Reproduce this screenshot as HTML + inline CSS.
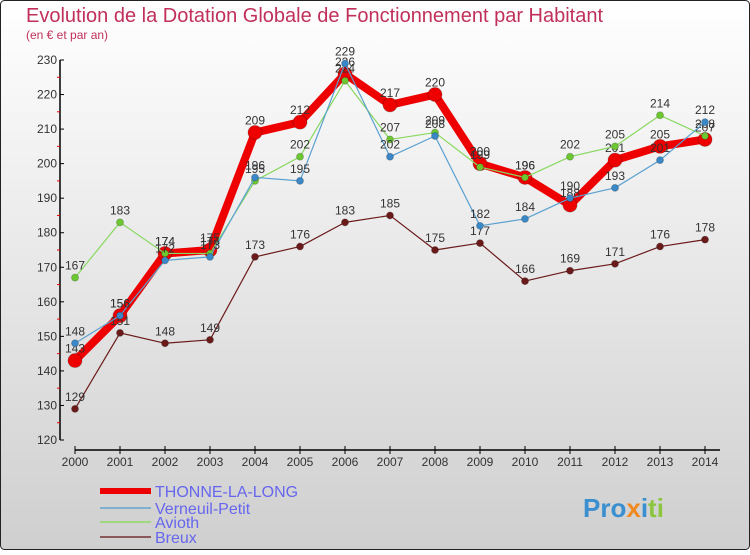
<!DOCTYPE html>
<html><head><meta charset="utf-8"><style>
body{margin:0;width:750px;height:550px;overflow:hidden;font-family:"Liberation Sans",sans-serif}
</style></head><body>
<svg id="c" width="750" height="550" xmlns="http://www.w3.org/2000/svg">
<defs><linearGradient id="bg" x1="0" y1="0" x2="0" y2="1"><stop offset="0" stop-color="#ffffff"/><stop offset="1" stop-color="#cfcfcf"/></linearGradient></defs>
<rect x="0.5" y="0.5" width="749" height="549" rx="4" fill="url(#bg)" stroke="#222"/>
<text x="26" y="22" font-size="20" fill="#c0305a">Evolution de la Dotation Globale de Fonctionnement par Habitant</text>
<text x="26" y="39" font-size="12" fill="#c0305a">(en € et par an)</text>
<g id="axes"></g><g id="series"></g><g id="legend"></g>
<text x="583" y="517" font-size="26" font-weight="bold" fill="#3a8fd0">Pro<tspan fill="#f08a20">x</tspan><tspan fill="#3a8fd0">i</tspan><tspan fill="#8cc63f">ti</tspan></text>
</svg>
<script>
const years=[2000,2001,2002,2003,2004,2005,2006,2007,2008,2009,2010,2011,2012,2013,2014];
const thonne=[143,156,174,175,209,212,226,217,220,200,196,188,201,205,207];
const verneuil=[148,156,172,173,196,195,229,202,208,182,184,190,193,201,212];
const avioth=[167,183,174,174,195,202,224,207,209,199,196,202,205,214,208];
const breux=[129,151,148,149,173,176,183,185,175,177,166,169,171,176,178];
const yTicks=[120,130,140,150,160,170,180,190,200,210,220,230];
const NS="http://www.w3.org/2000/svg";
const X=i=>75+i*45, Y=v=>440-(v-120)*(380/110);
function mk(t,a,p){const e=document.createElementNS(NS,t);for(const k in a)e.setAttribute(k,a[k]);p.appendChild(e);return e;}
const ax=document.getElementById('axes');
let l=mk('line',{x1:60,y1:60,x2:60,y2:440,stroke:'#000','stroke-width':1.5},ax);


l=mk('line',{x1:75,y1:450,x2:720,y2:450,stroke:'#000','stroke-width':1.5},ax);


yTicks.forEach((v,i)=>{
  mk('line',{x1:60,y1:Y(v),x2:64,y2:Y(v),stroke:'#000'},ax);
  if(i<yTicks.length-1)mk('line',{x1:57,y1:Y(v+5),x2:60,y2:Y(v+5),stroke:'#e00'},ax);
  const t=mk('text',{x:57,y:Y(v)+4,'font-size':12,'text-anchor':'end',fill:'#333'},ax);t.textContent=v;
  
  
});
years.forEach((yr,i)=>{
  mk('line',{x1:X(i),y1:446,x2:X(i),y2:454,stroke:'#000'},ax);
  const t=mk('text',{x:X(i),y:466,'font-size':12,'text-anchor':'middle',fill:'#333'},ax);t.textContent=yr;
  
  
});
const sg=document.getElementById('series');
const defs=[
 {d:breux,c:'#6b1a1a',w:1.2,r:3.5,n:'breux'},
 {d:avioth,c:'#88d860',w:1.2,r:3.5,n:'avioth',fc:'#6cc830'},
 {d:verneuil,c:'#5aa0d0',w:1.2,r:3.5,n:'verneuil-petit',fc:'#3a88c8'},
 {d:thonne,c:'#ee0000',w:8,r:7,n:'thonne-la-long'}];
const order=[3,0,1,2];
order.forEach(k=>{const s=defs[k];
  const g=mk('g',{},sg);
  
  
  mk('polyline',{points:s.d.map((v,i)=>X(i)+','+Y(v)).join(' '),fill:'none',stroke:s.c,'stroke-width':s.w,'stroke-linejoin':'round'},g);
  s.d.forEach((v,i)=>{
    const p=mk('circle',{cx:X(i),cy:Y(v),r:s.r,fill:s.fc||s.c,stroke:'rgba(0,0,0,0.2)'},g);
    
    
    const t=mk('text',{x:X(i),y:Y(v)-8,'font-size':12,'text-anchor':'middle',fill:'#333'},g);t.textContent=v;
    
    
  });
});
const lg=document.getElementById('legend');
[['THONNE-LA-LONG','#ee0000',6,492,16],['Verneuil-Petit','#7fb0d0',2,509,16],['Avioth','#a0d880',2,523,16],['Breux','#8a5a5a',2,538,16]].forEach(e=>{
  const g=mk('g',{},lg);
  
  
  mk('line',{x1:100,y1:e[3]-1,x2:151,y2:e[3]-1,stroke:e[1],'stroke-width':e[2]},g);
  const t=mk('text',{x:155,y:e[3]+5,'font-size':e[4],fill:'#6666ee'},g);t.textContent=e[0];
});
</script>
</body></html>
